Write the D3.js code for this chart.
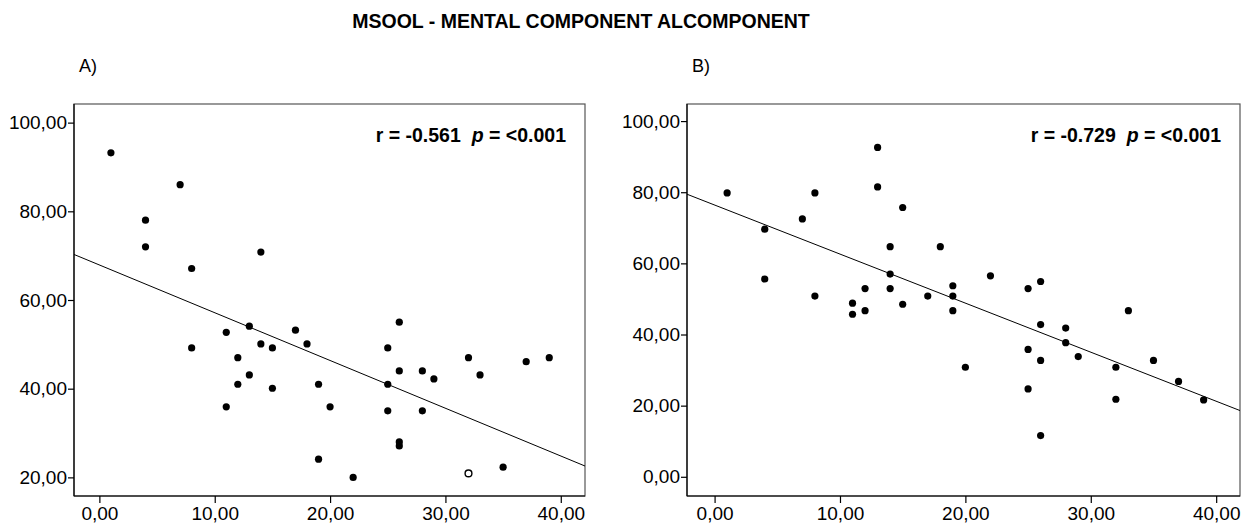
<!DOCTYPE html>
<html>
<head>
<meta charset="utf-8">
<script src="https://cdn.jsdelivr.net/npm/d3@7"></script>
<style>
  html, body { margin: 0; padding: 0; background: #fff; }
  svg text { font-family: "Liberation Sans", Arial, sans-serif; fill: #000; }
</style>
</head>
<body>
<div id="chart"></div>
<script>
// --- Data ---
const titleText = "MSOOL - MENTAL COMPONENT ALCOMPONENT";

// Panel A (filled points)
const aX = [1, 7, 4, 4, 8, 14, 8, 11, 13, 14, 15, 12, 13, 12, 15, 11, 17, 18, 19, 20, 19, 22,
            25, 26, 25, 26, 25, 26, 26, 28, 29, 28, 32, 33, 35, 37, 39];
const aY = [93.2, 86.0, 78.0, 72.0, 67.1, 70.8, 49.2, 52.7, 54.1, 50.1, 49.2, 47.0, 43.1, 41.0, 40.1, 35.9, 53.2, 50.1, 41.0, 35.9, 24.1, 20.0,
            49.2, 55.0, 41.0, 44.0, 35.0, 28.0, 27.1, 44.0, 42.2, 35.0, 47.0, 43.1, 22.3, 46.1, 47.0];
// Panel A (open point)
const aOpenX = [32];
const aOpenY = [20.9];

// Panel B
const bX = [1, 4, 7, 8, 13, 13, 15, 14, 18, 4, 14, 12, 14, 8, 17, 11, 11, 12, 15, 22,
            19, 25, 26, 19, 19, 20, 26, 28, 28, 25, 26, 29, 33, 32, 35, 37, 25, 32, 39, 26];
const bY = [79.8, 69.6, 72.5, 79.8, 92.6, 81.5, 75.7, 64.7, 64.7, 55.6, 57.0, 52.9, 52.9, 50.8, 50.8, 48.8, 45.7, 46.7, 48.5, 56.5,
            53.7, 52.9, 54.9, 50.8, 46.7, 30.8, 42.8, 41.8, 37.7, 35.8, 32.7, 33.8, 46.7, 30.8, 32.7, 26.8, 24.7, 21.8, 21.6, 11.6];

// Fit lines (intercept, slope)
const fitA = [67.9, -1.077];
const fitB = [76.4, -1.379];

const statA = "-0.561";
const statB = "-0.729";

const xTicks = [0, 10, 20, 30, 40];
const yTicksA = [20, 40, 60, 80, 100];
const yTicksB = [0, 20, 40, 60, 80, 100];

// --- Layout ---
const W = 1243, H = 524;
const svg = d3.select("#chart").append("svg")
    .attr("width", W)
    .attr("height", H);

const fmt = v => d3.format(".2f")(v).replace(".", ",");
const NB = "\u00A0";

svg.append("text")
    .attr("x", 581)
    .attr("y", 28)
    .attr("text-anchor", "middle")
    .style("font-size", "19.5px")
    .style("font-weight", "bold")
    .text(titleText);

function drawPanel(opt) {
    const { left, right, top, bottom, xDom, yDom, yTicks, xs, ys, openX, openY, fit, r, letter } = opt;
    const x = d3.scaleLinear().domain(xDom).range([left, right]);
    const y = d3.scaleLinear().domain(yDom).range([bottom, top]);
    const g = svg.append("g");
    const clipId = "clip" + letter;

    g.append("clipPath").attr("id", clipId)
        .append("rect")
        .attr("x", left).attr("y", top)
        .attr("width", right - left).attr("height", bottom - top);

    // frame
    g.append("rect")
        .attr("x", left).attr("y", top)
        .attr("width", right - left).attr("height", bottom - top)
        .attr("fill", "#fff")
        .attr("stroke", "#555")
        .attr("stroke-width", 1.2);

    // axes
    const xAxis = g.append("g")
        .attr("transform", `translate(0,${bottom})`)
        .call(d3.axisBottom(x).tickValues(xTicks).tickFormat(fmt).tickSize(7).tickPadding(4));
    const yAxis = g.append("g")
        .attr("transform", `translate(${left},0)`)
        .call(d3.axisLeft(y).tickValues(yTicks).tickFormat(fmt).tickSize(6).tickPadding(1));
    [xAxis, yAxis].forEach(a => {
        a.select(".domain").attr("stroke", "#000").attr("stroke-width", 1.2);
        a.selectAll(".tick line").attr("stroke", "#000").attr("stroke-width", 1.2);
        a.selectAll(".tick text")
            .style("font-size", "19px")
            .style("font-family", "'Liberation Sans', Arial, sans-serif")
            .attr("fill", "#111");
    });
    xAxis.select(".domain").attr("d", `M${left},0H${right}`);
    yAxis.select(".domain").attr("d", `M0,${bottom}V${top}`);

    // regression line
    g.append("line")
        .attr("clip-path", `url(#${clipId})`)
        .attr("x1", x(xDom[0])).attr("y1", y(fit[0] + fit[1] * xDom[0]))
        .attr("x2", x(xDom[1])).attr("y2", y(fit[0] + fit[1] * xDom[1]))
        .attr("stroke", "#000")
        .attr("stroke-width", 1);

    // points
    g.selectAll("circle.pt")
        .data(d3.zip(xs, ys))
        .join("circle")
        .attr("class", "pt")
        .attr("cx", d => x(d[0]))
        .attr("cy", d => y(d[1]))
        .attr("r", 3.6)
        .attr("fill", "#000");

    if (openX) {
        g.selectAll("circle.open")
            .data(d3.zip(openX, openY))
            .join("circle")
            .attr("class", "open")
            .attr("cx", d => x(d[0]))
            .attr("cy", d => y(d[1]))
            .attr("r", 3.4)
            .attr("fill", "#fff")
            .attr("stroke", "#000")
            .attr("stroke-width", 1.4);
    }

    // stats label
    const t = g.append("text")
        .attr("x", right - 19)
        .attr("y", 142)
        .attr("text-anchor", "end")
        .style("font-size", "19.5px")
        .style("font-weight", "bold");
    t.append("tspan").text(`r = ${r}${NB}${NB}`);
    t.append("tspan").style("font-style", "italic").text("p");
    t.append("tspan").text(`${NB}= <0.001`);

    // panel letter
    svg.append("text")
        .attr("x", left + 5)
        .attr("y", 72)
        .style("font-size", "18px")
        .text(letter + ")");
}

drawPanel({
    left: 74, right: 585, top: 104, bottom: 496,
    xDom: [-2.2, 42.1], yDom: [15.8, 104.2], yTicks: yTicksA,
    xs: aX, ys: aY, openX: aOpenX, openY: aOpenY,
    fit: fitA, r: statA, letter: "A"
});

drawPanel({
    left: 687, right: 1240, top: 104, bottom: 496,
    xDom: [-2.2, 41.9], yDom: [-5.4, 104.8], yTicks: yTicksB,
    xs: bX, ys: bY, openX: null, openY: null,
    fit: fitB, r: statB, letter: "B"
});
</script>
</body>
</html>
